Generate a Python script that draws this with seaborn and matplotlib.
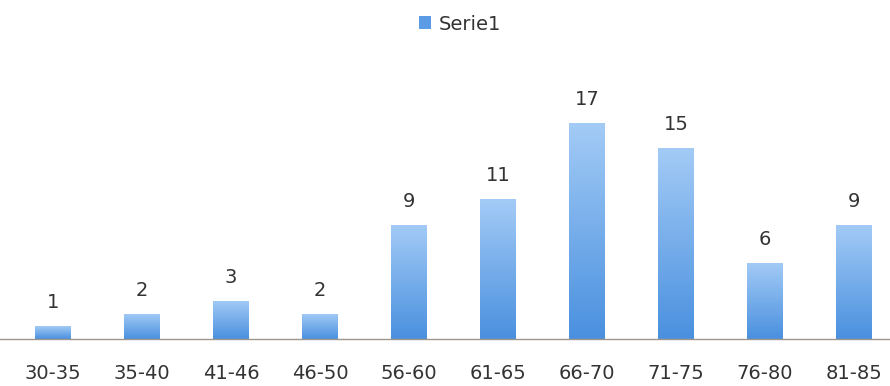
import matplotlib
matplotlib.use("Agg")
import matplotlib.pyplot as plt
import seaborn as sns
import numpy as np
import pandas as pd
from matplotlib.colors import LinearSegmentedColormap
from matplotlib.patches import Patch

categories = ["30-35", "35-40", "41-46", "46-50", "56-60", "61-65", "66-70", "71-75", "76-80", "81-85"]
values = [1, 2, 3, 2, 9, 11, 17, 15, 6, 9]
series_name = "Serie1"

sns.set_theme(style="white")
plt.rcParams['font.family'] = ['DejaVu Sans']

df = pd.DataFrame({"cat": categories, "val": values})

fig = plt.figure(figsize=(8.9, 3.86), dpi=100)
ax = fig.add_axes([0, 47/386, 1, (339-60)/386])

sns.barplot(data=df, x="cat", y="val", ax=ax, color="#5b9be5", width=36/89,
            saturation=1, edgecolor="none")

ax.set_xlim(-53/89, (890-53)/89)
ax.set_ylim(0, (339-60)/12.7)

cmap = LinearSegmentedColormap.from_list("g", ["#4a90df", "#a3cbf6"])
grad = np.linspace(0, 1, 256).reshape(-1, 1)
for p in ax.patches:
    x0, y0 = p.get_x(), p.get_y()
    w, h = p.get_width(), p.get_height()
    im = ax.imshow(grad, cmap=cmap, origin="lower", aspect="auto",
                   extent=[x0, x0 + w, y0, y0 + h], zorder=p.get_zorder() + 0.1)
    im.set_clip_path(p)
    ax.annotate(f"{int(h)}", (x0 + w/2, h), xytext=(0, 13), textcoords="offset points",
                ha="center", va="baseline", fontsize=14, color="#333333")

for s in ["top", "right", "left"]:
    ax.spines[s].set_visible(False)
ax.spines["bottom"].set_color("#a0978c")
ax.spines["bottom"].set_linewidth(1)
ax.set_yticks([])
ax.set_xlabel("")
ax.set_ylabel("")
ax.tick_params(axis="x", length=0, pad=18, labelsize=14, labelcolor="#333333")

handle = Patch(facecolor="#5b9be5", edgecolor="none")
fig.legend([handle], [series_name], loc="center", bbox_to_anchor=(460/890, 1 - 24/386),
           frameon=False, fontsize=14, handlelength=0.6, handleheight=0.6,
           handletextpad=0.4, labelcolor="#333333", borderpad=0)

fig.savefig("out.png", dpi=100)
